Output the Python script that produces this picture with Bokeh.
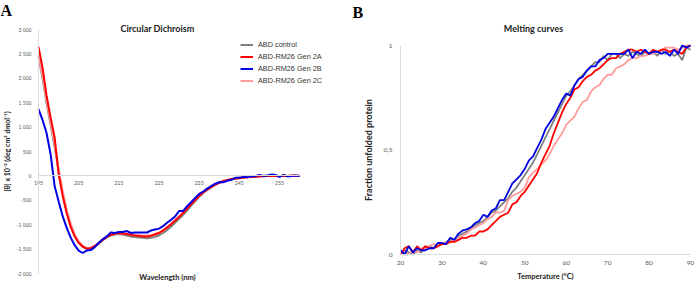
from bokeh.plotting import figure
from bokeh.layouts import row
from bokeh.models import Label, Legend, LegendItem, Range1d, FixedTicker
from bokeh.embed import file_html
from bokeh.resources import INLINE

# ---------------- Circular dichroism data ----------------
wavelength = list(range(195, 261))
cd_control = [2450, 2000, 1500, 1050, 600, 100, -350, -720, -1000, -1220,
              -1360, -1450, -1500, -1490, -1450, -1390, -1320, -1260, -1220, -1200,
              -1190, -1200, -1220, -1240, -1250, -1260, -1270, -1280, -1270, -1250,
              -1220, -1170, -1110, -1040, -960, -880, -800, -710, -610, -520,
              -430, -350, -290, -230, -180, -140, -110, -90, -70, -50,
              -40, -30, -25, -20, -10, -5, 0, 5, 0, 5, 0, 5, 0, 5, 0, 0]
cd_gen2a = [2650, 2220, 1650, 1200, 800, 50, -400, -760, -1040, -1240,
            -1370, -1450, -1490, -1480, -1440, -1380, -1310, -1250, -1210, -1180,
            -1170, -1180, -1190, -1210, -1220, -1230, -1240, -1240, -1230, -1200,
            -1170, -1120, -1060, -990, -920, -840, -760, -670, -580, -490,
            -410, -340, -280, -230, -180, -140, -110, -90, -70, -60,
            -50, -40, -30, -25, -20, -10, -5, 0, 5, 0, -5, 5, 0, 10, 5, 5]
cd_gen2b = [1370, 1150, 880, 450, -200, -520, -820, -1060, -1260, -1420,
            -1530, -1580, -1530, -1520, -1460, -1370, -1300, -1240, -1160, -1170,
            -1150, -1150, -1130, -1170, -1160, -1160, -1160, -1160, -1120, -1100,
            -1080, -1030, -960, -900, -830, -720, -720, -620, -540, -450,
            -370, -320, -260, -210, -160, -130, -130, -100, -80, -40,
            -40, -20, -30, -10, 0, 20, 0, 10, 30, 20, -20, 20, -10, 0, 10, 0]
cd_gen2c = [2450, 2050, 1550, 1100, 650, 150, -300, -690, -980, -1200,
            -1340, -1430, -1480, -1470, -1430, -1370, -1300, -1240, -1200, -1180,
            -1170, -1175, -1190, -1200, -1210, -1215, -1220, -1220, -1210, -1190,
            -1160, -1110, -1050, -980, -900, -830, -750, -660, -570, -480,
            -400, -330, -270, -220, -170, -130, -100, -80, -60, -45,
            -35, -25, -20, -15, -5, 0, 5, 0, 10, 5, 0, 10, 5, 0, 5, 0]
cd_xticks = [195, 205, 215, 225, 235, 245, 255]
cd_yticks = [-2000, -1500, -1000, -500, 0, 500, 1000, 1500, 2000, 2500, 3000]
cd_ytick_labels = ["-2 000", "-1 500", "-1 000", "-500", "0", "500", "1 000",
                   "1 500", "2 000", "2 500", "3 000"]

# ---------------- Melting curve data ----------------
temperature = list(range(20, 91))
melt_control = [0.0, 0.02, 0.01, 0.0, 0.02, 0.01, 0.03, 0.04, 0.03, 0.04,
                0.05, 0.06, 0.07, 0.07, 0.09, 0.10, 0.11, 0.12, 0.14, 0.15,
                0.16, 0.18, 0.20, 0.21, 0.23, 0.25, 0.27, 0.30, 0.32, 0.35,
                0.38, 0.41, 0.44, 0.48, 0.52, 0.56, 0.60, 0.64, 0.68, 0.72,
                0.76, 0.78, 0.81, 0.84, 0.86, 0.88, 0.90, 0.92, 0.92, 0.95,
                0.93, 0.96, 0.96, 0.94, 0.96, 0.95, 0.97, 0.96, 0.95, 0.97,
                0.96, 0.97, 0.95, 0.98, 0.96, 0.97, 0.95, 0.96, 0.93, 0.99, 0.98]
melt_gen2a = [0.0, 0.03, 0.04, 0.01, 0.04, 0.02, 0.04, 0.03, 0.03, 0.04,
              0.05, 0.05, 0.06, 0.06, 0.07, 0.08, 0.08, 0.09, 0.09, 0.11,
              0.11, 0.12, 0.14, 0.16, 0.18, 0.19, 0.20, 0.24, 0.25, 0.28,
              0.30, 0.33, 0.36, 0.39, 0.44, 0.48, 0.52, 0.58, 0.63, 0.68,
              0.72, 0.75, 0.79, 0.80, 0.83, 0.85, 0.86, 0.88, 0.89, 0.91,
              0.93, 0.94, 0.94, 0.96, 0.97, 0.98, 0.98, 0.97, 0.98, 0.97,
              0.96, 0.98, 0.97, 0.98, 0.98, 0.97, 0.98, 0.97, 0.96, 0.99, 1.0]
melt_gen2b = [0.02, 0.0, 0.04, 0.01, 0.03, 0.02, 0.02, 0.03, 0.03, 0.055,
              0.055, 0.05, 0.08, 0.07, 0.10, 0.115, 0.12, 0.13, 0.15, 0.16,
              0.19, 0.18, 0.21, 0.22, 0.26, 0.26, 0.30, 0.34, 0.36, 0.38,
              0.41, 0.45, 0.47, 0.51, 0.55, 0.60, 0.63, 0.66, 0.70, 0.74,
              0.77, 0.76, 0.81, 0.84, 0.85, 0.88, 0.90, 0.90, 0.93, 0.94,
              0.96, 0.96, 0.96, 0.96, 0.96, 0.98, 0.94, 0.97, 0.96, 0.98,
              0.96, 0.97, 0.97, 0.96, 0.97, 0.95, 0.98, 0.96, 1.0, 0.99, 1.0]
melt_gen2c = [0.0, 0.01, 0.0, 0.02, 0.01, 0.03, 0.03, 0.04, 0.05, 0.04,
              0.05, 0.06, 0.06, 0.07, 0.08, 0.09, 0.10, 0.12, 0.13, 0.14,
              0.15, 0.17, 0.18, 0.20, 0.20, 0.21, 0.26, 0.28, 0.29, 0.30,
              0.32, 0.37, 0.39, 0.41, 0.43, 0.45, 0.48, 0.52, 0.55, 0.58,
              0.62, 0.64, 0.66, 0.70, 0.73, 0.74, 0.78, 0.80, 0.81, 0.84,
              0.86, 0.86, 0.89, 0.90, 0.91, 0.93, 0.94, 0.94, 0.95, 0.95,
              0.96, 0.96, 0.97, 0.98, 0.99, 0.99, 0.99, 0.98, 0.99, 1.0, 1.0]
melt_xticks = [20, 30, 40, 50, 60, 70, 80, 90]
melt_yticks = [0, 0.5, 1]
melt_ytick_labels = ["0", "0,5", "1"]

series_names = ["ABD control", "ABD-RM26 Gen 2A", "ABD-RM26 Gen 2B", "ABD-RM26 Gen 2C"]
series_colors = ["#808080", "#ff0000", "#0000e6", "#ff9c9c"]

AXIS_GRAY = "#d9d9d9"
TICK_TEXT = "#595959"
SANS = "Lato"
W, H = 348, 283   # each panel


def vrange(v_top, px_top, v_bot, px_bot, size):
    """Vertical range whose ends fall on the figure edges, from two value->pixel anchors."""
    scale = (px_bot - px_top) / (v_top - v_bot)   # px per unit
    hi = v_top + px_top / scale
    lo = v_bot - (size - px_bot) / scale
    return Range1d(lo, hi)


def hrange(v_l, px_l, v_r, px_r, size):
    scale = (px_r - px_l) / (v_r - v_l)
    lo = v_l - px_l / scale
    hi = v_r + (size - px_r) / scale
    return Range1d(lo, hi)


def style(p):
    p.grid.visible = False
    p.outline_line_color = None
    p.background_fill_color = "white"
    p.border_fill_color = "white"
    for ax in (p.xaxis[0], p.yaxis[0]):
        ax.axis_line_color = AXIS_GRAY
        ax.axis_line_width = 1
        ax.major_tick_line_color = None
        ax.minor_tick_line_color = None
        ax.major_tick_out = 0
        ax.major_tick_in = 0
        ax.minor_tick_out = 0
        ax.minor_tick_in = 0
        ax.major_label_text_color = TICK_TEXT
        ax.major_label_text_font = SANS
        ax.axis_label_text_font = SANS
        ax.axis_label_text_font_style = "bold"
        ax.axis_label_text_color = "#222222"
        ax.axis_label_text_font_size = "7.5px"


# ---------------- Panel A ----------------
p1 = figure(width=W, height=H,
            x_range=hrange(195, 38, 255, 279, W),
            y_range=vrange(3000, 29, -2000, 273, H),
            output_backend="svg", toolbar_location=None,
            min_border=0)
style(p1)
p1.xaxis.fixed_location = 0
p1.xaxis.bounds = (195, 260)
p1.xaxis.ticker = FixedTicker(ticks=cd_xticks)
p1.xaxis.major_label_text_font_size = "5.3px"
p1.xaxis.major_label_standoff = 5
p1.yaxis.fixed_location = 195
p1.yaxis.bounds = (-2000, 3000)
p1.yaxis.ticker = FixedTicker(ticks=cd_yticks)
p1.yaxis.major_label_overrides = {v: s for v, s in zip(cd_yticks, cd_ytick_labels)}
p1.yaxis.major_label_text_font_size = "5px"
p1.yaxis.major_label_standoff = 7
p1.yaxis.axis_label = "[θ] x 10⁻³ (deg cm² dmol⁻¹)"
p1.yaxis.axis_label_standoff = 3
p1.yaxis.axis_label_text_font_size = "7px"

cd_series = [cd_control, cd_gen2a, cd_gen2b, cd_gen2c]
renderers = {}
for idx in [0, 3, 1, 2]:
    renderers[idx] = p1.line(wavelength, cd_series[idx], line_color=series_colors[idx], line_width=2)

legend = Legend(items=[LegendItem(label=series_names[i], renderers=[renderers[i]]) for i in range(4)],
                location=(240, 197), padding=0, margin=0, spacing=1,
                glyph_width=13, glyph_height=11, label_height=11, label_standoff=5,
                label_text_font="Liberation Sans", label_text_font_size="7.3px",
                label_text_color="#333333",
                border_line_color=None, background_fill_alpha=0)
p1.add_layout(legend, "center")

p1.add_layout(Label(x=0, y=H - 1, x_units="screen", y_units="screen", text="A",
                    text_font="Liberation Serif", text_font_style="bold", text_font_size="16px",
                    text_baseline="top", text_align="left", text_color="black"))
p1.add_layout(Label(x=157, y=H - 28, x_units="screen", y_units="screen", text="Circular Dichroism",
                    text_font=SANS, text_font_style="bold", text_font_size="9px",
                    text_baseline="middle", text_align="center", text_color="#222222"))
p1.add_layout(Label(x=167, y=H - 277, x_units="screen", y_units="screen", text="Wavelength (nm)",
                    text_font=SANS, text_font_style="bold", text_font_size="7.5px",
                    text_baseline="middle", text_align="center", text_color="#222222"))

# ---------------- Panel B ----------------
X0 = 348  # left edge of panel B in the picture
p2 = figure(width=W, height=H,
            x_range=hrange(20, 400 - X0, 90, 690 - X0, W),
            y_range=vrange(1, 45, 0, 254, H),
            output_backend="svg", toolbar_location=None,
            min_border=0)
style(p2)
p2.xaxis.fixed_location = 0
p2.xaxis.bounds = (20, 90)
p2.xaxis.ticker = FixedTicker(ticks=melt_xticks)
p2.xaxis.major_label_text_font_size = "6.5px"
p2.xaxis.major_label_standoff = 6
p2.xaxis.axis_label = "Temperature (°C)"
p2.xaxis.axis_label_standoff = 4
p2.yaxis.fixed_location = 20
p2.yaxis.bounds = (0, 1)
p2.yaxis.ticker = FixedTicker(ticks=melt_yticks)
p2.yaxis.major_label_overrides = {v: s for v, s in zip(melt_yticks, melt_ytick_labels)}
p2.yaxis.major_label_text_font_size = "6.5px"
p2.yaxis.major_label_standoff = 8
p2.yaxis.axis_label = "Fraction unfolded protein"
p2.yaxis.axis_label_standoff = 6
p2.yaxis.axis_label_text_font_size = "9px"

melt_series = [melt_control, melt_gen2a, melt_gen2b, melt_gen2c]
for idx in [0, 3, 1, 2]:
    p2.line(temperature, melt_series[idx], line_color=series_colors[idx], line_width=1.8)

p2.add_layout(Label(x=4, y=H - 3, x_units="screen", y_units="screen", text="B",
                    text_font="Liberation Serif", text_font_style="bold", text_font_size="16px",
                    text_baseline="top", text_align="left", text_color="black"))
p2.add_layout(Label(x=533 - X0, y=H - 28, x_units="screen", y_units="screen", text="Melting curves",
                    text_font=SANS, text_font_style="bold", text_font_size="9px",
                    text_baseline="middle", text_align="center", text_color="#222222"))

layout = row(p1, p2)
open("out.html", "w").write(file_html(layout, INLINE))
